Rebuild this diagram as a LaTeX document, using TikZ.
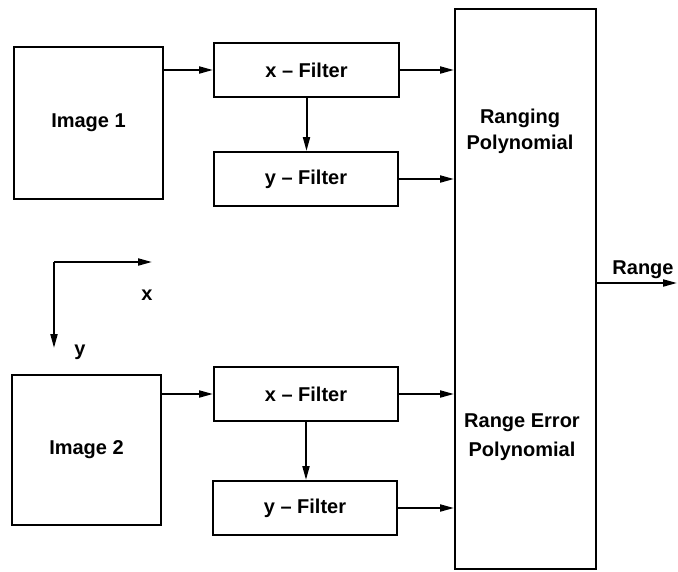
\documentclass[tikz,border=0pt]{standalone}
\usepackage{fontspec}
\setmainfont{Liberation Sans}
\usetikzlibrary{arrows.meta}
\begin{document}
\begin{tikzpicture}[x=1pt,y=-1pt,
  box/.style={draw,line width=2pt,inner sep=0pt},
  lbl/.style={font=\bfseries\fontsize{20}{26}\selectfont,align=center,inner sep=0pt},
  arr/.style={line width=2pt,-{Triangle[length=14pt,width=7pt]}}]
\useasboundingbox (0,0) rectangle (678,571);
% boxes
\node[box,minimum width=149pt,minimum height=152pt] (img1) at (88.5,123) {};
\node[lbl] at (img1) {Image 1};
\node[box,minimum width=149pt,minimum height=150pt] (img2) at (86.5,450) {};
\node[lbl] at (img2) {Image 2};
\node[box,minimum width=185pt,minimum height=54pt,lbl] (xf1) at (306.5,70) {x -- Filter};
\node[box,minimum width=184pt,minimum height=54pt,lbl] (yf1) at (306,179) {y -- Filter};
\node[box,minimum width=184pt,minimum height=54pt,lbl] (xf2) at (306,394) {x -- Filter};
\node[box,minimum width=184pt,minimum height=54pt,lbl] (yf2) at (305,508) {y -- Filter};
\node[box,minimum width=141pt,minimum height=560pt] (big) at (525.5,289) {};
\node[lbl] (rp) at (520,131) {Ranging\\Polynomial};
\node[lbl,font=\bfseries\fontsize{20}{29}\selectfont] (rep) at (522,437) {Range Error\\Polynomial};
% connectors
\draw[arr] (img1.east |- xf1) -- (xf1.west);
\draw[arr] (xf1.south) -- (xf1.south |- yf1.north);
\draw[arr] (xf1.east) -- (big.west |- xf1.east);
\draw[arr] (yf1.east) -- (big.west |- yf1.east);
\draw[arr] (img2.east |- xf2) -- (xf2.west);
\draw[arr] (xf2.south) -- (xf2.south |- yf2.north);
\draw[arr] (xf2.east) -- (big.west |- xf2.east);
\draw[arr] (yf2.east) -- (big.west |- yf2.east);
% output
\coordinate (rangeend) at (677,283);
\draw[arr] (big.east |- rangeend) -- (rangeend);
\node[lbl,anchor=south] (rangelbl) at (643,279) {Range};
% axes
\coordinate (ax0) at (54,262);
\coordinate (axx) at (152,262);
\coordinate (axy) at (54,348);
\draw[arr] (ax0) -- (axx);
\draw[arr] (ax0) -- (axy);
\node[lbl] (xl) at (147,295) {x};
\node[lbl] (yl) at (80,352) {y};
\end{tikzpicture}
\end{document}
